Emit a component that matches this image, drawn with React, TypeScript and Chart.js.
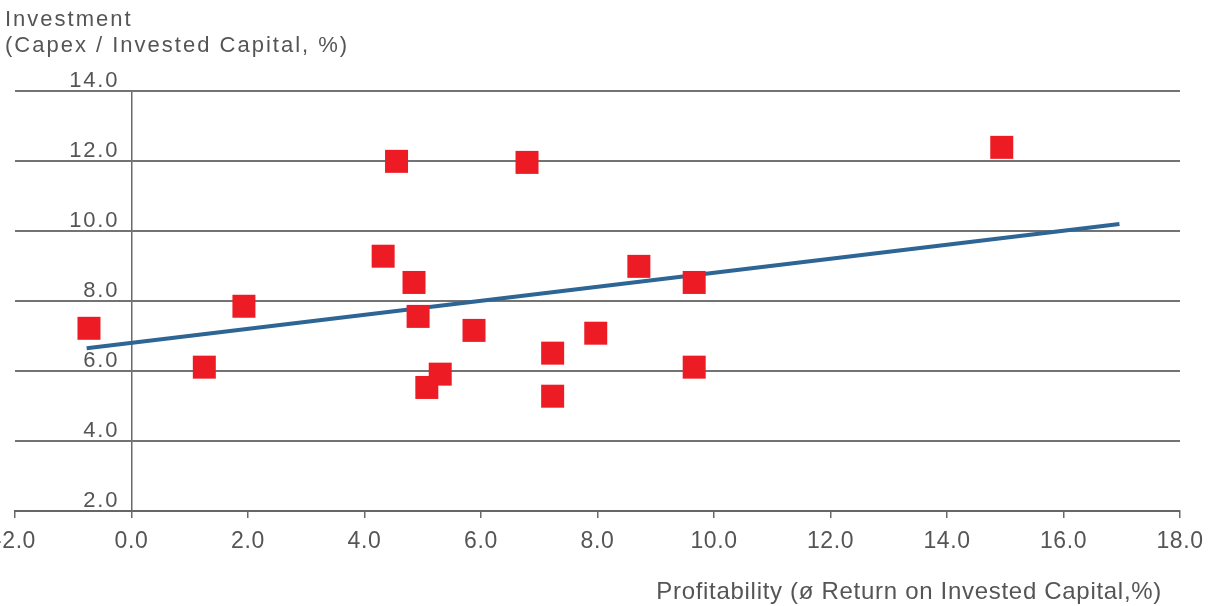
import { useEffect, useRef } from "react";
import { Chart, registerables } from "chart.js";

Chart.register(...registerables);

// Profitability (x) vs. investment (y) per company
const profitability = [-0.73, 1.25, 1.93, 4.32, 4.55, 4.85, 4.92, 5.07, 5.3, 5.88, 6.79, 7.23, 7.23, 7.97, 8.71, 9.66, 9.66, 14.94];
const investment = [7.22, 6.11, 7.85, 9.28, 11.99, 8.53, 7.56, 5.53, 5.91, 7.16, 11.96, 6.51, 5.28, 7.08, 8.99, 8.53, 6.11, 12.39];

// Trend line end points
const trendX = [-0.77, 16.96];
const trendY = [6.65, 10.2];

const xTicks = [-2, 0, 2, 4, 6, 8, 10, 12, 14, 16, 18];
const yTicks = [2, 4, 6, 8, 10, 12, 14];

const yTitle = ["Investment", "(Capex / Invested Capital, %)"];
const xTitle = "Profitability (ø Return on Invested Capital,%)";

const TEXT = "#555557";
const FONT = '"Liberation Sans", Arial, Helvetica, sans-serif';

const axisText = {
  id: "axisText",
  beforeDraw(chart: any) {
    chart.ctx.letterSpacing = "0.6px";
  },
  afterDraw(chart: any) {
    const { ctx, scales } = chart;
    const x = scales.x;
    const y = scales.y;
    ctx.save();
    ctx.fillStyle = TEXT;
    ctx.textBaseline = "alphabetic";

    // value labels sit above each horizontal grid line, left of the zero line
    ctx.font = `22px ${FONT}`;
    ctx.letterSpacing = "1.8px";
    ctx.textAlign = "right";
    const x0 = x.getPixelForValue(0);
    yTicks.forEach((v) => {
      ctx.fillText(v.toFixed(1), x0 - 14 + 1.8, y.getPixelForValue(v) - 4);
    });

    // vertical axis title, horizontal at the top left
    ctx.textAlign = "left";
    ctx.letterSpacing = "2px";
    ctx.fillText(yTitle[0], 5, 26);
    ctx.fillText(yTitle[1], 5, 52);

    // horizontal axis title, right aligned under the axis
    ctx.font = `24px ${FONT}`;
    ctx.letterSpacing = "0.7px";
    ctx.textAlign = "right";
    ctx.fillText(xTitle, 1162, 599);
    ctx.restore();
  },
};

export default function App() {
  const canvasRef = useRef<HTMLCanvasElement | null>(null);

  useEffect(() => {
    const canvas = canvasRef.current;
    if (!canvas) return;

    const points = profitability.map((px, i) => ({ x: px, y: investment[i] }));
    const trend = trendX.map((tx, i) => ({ x: tx, y: trendY[i] }));

    const chart = new Chart(canvas, {
      type: "scatter",
      data: {
        datasets: [
          {
            type: "scatter",
            data: points,
            backgroundColor: "#ED1C24",
            borderWidth: 0,
            pointStyle: "rect",
            pointRadius: 16.26,
            pointHoverRadius: 16.26,
            order: 0,
          },
          {
            type: "line",
            data: trend,
            borderColor: "#2D6594",
            borderWidth: 4,
            pointRadius: 0,
            fill: false,
            order: 1,
          } as any,
        ],
      },
      options: {
        animation: false,
        responsive: true,
        maintainAspectRatio: false,
        layout: {
          autoPadding: false,
          padding: { left: 15, top: 91, right: 32, bottom: 0 },
        } as any,
        plugins: {
          legend: { display: false },
          tooltip: { enabled: false },
          title: { display: false },
        },
        scales: {
          x: {
            type: "linear",
            min: -2,
            max: 18,
            afterBuildTicks: (s: any) => {
              s.ticks = xTicks.map((v) => ({ value: v }));
            },
            afterFit: (s: any) => {
              // fixed band under the plot; end labels may overhang the edges
              s.height = 95;
              s.paddingLeft = 0;
              s.paddingRight = 0;
            },
            ticks: {
              autoSkip: false,
              maxRotation: 0,
              padding: 10,
              color: TEXT,
              font: { family: FONT, size: 23 },
              callback: (v: any) => Number(v).toFixed(1),
            },
            grid: {
              color: (c: any) => (c.tick && c.tick.value === 0 ? "#6a6a6a" : "rgba(0,0,0,0)"),
              lineWidth: 1.5,
              drawOnChartArea: true,
              drawTicks: true,
              tickLength: 7,
              tickColor: "#6a6a6a",
              tickWidth: 1.5,
            },
            border: { display: true, color: "#666666", width: 2 },
          },
          y: {
            type: "linear",
            min: 2,
            max: 14,
            afterBuildTicks: (s: any) => {
              s.ticks = yTicks.map((v) => ({ value: v }));
            },
            afterFit: (s: any) => {
              s.width = 0;
              s.paddingTop = 0;
              s.paddingBottom = 0;
            },
            ticks: { display: false },
            grid: {
              color: "#737373",
              lineWidth: 2,
              drawTicks: false,
            },
            border: { display: false },
          },
        },
      },
      plugins: [axisText],
    });

    return () => chart.destroy();
  }, []);

  return (
    <div style={{ position: "fixed", left: 0, top: 0, width: 1212, height: 606, background: "#fff" }}>
      <canvas ref={canvasRef} />
    </div>
  );
}
